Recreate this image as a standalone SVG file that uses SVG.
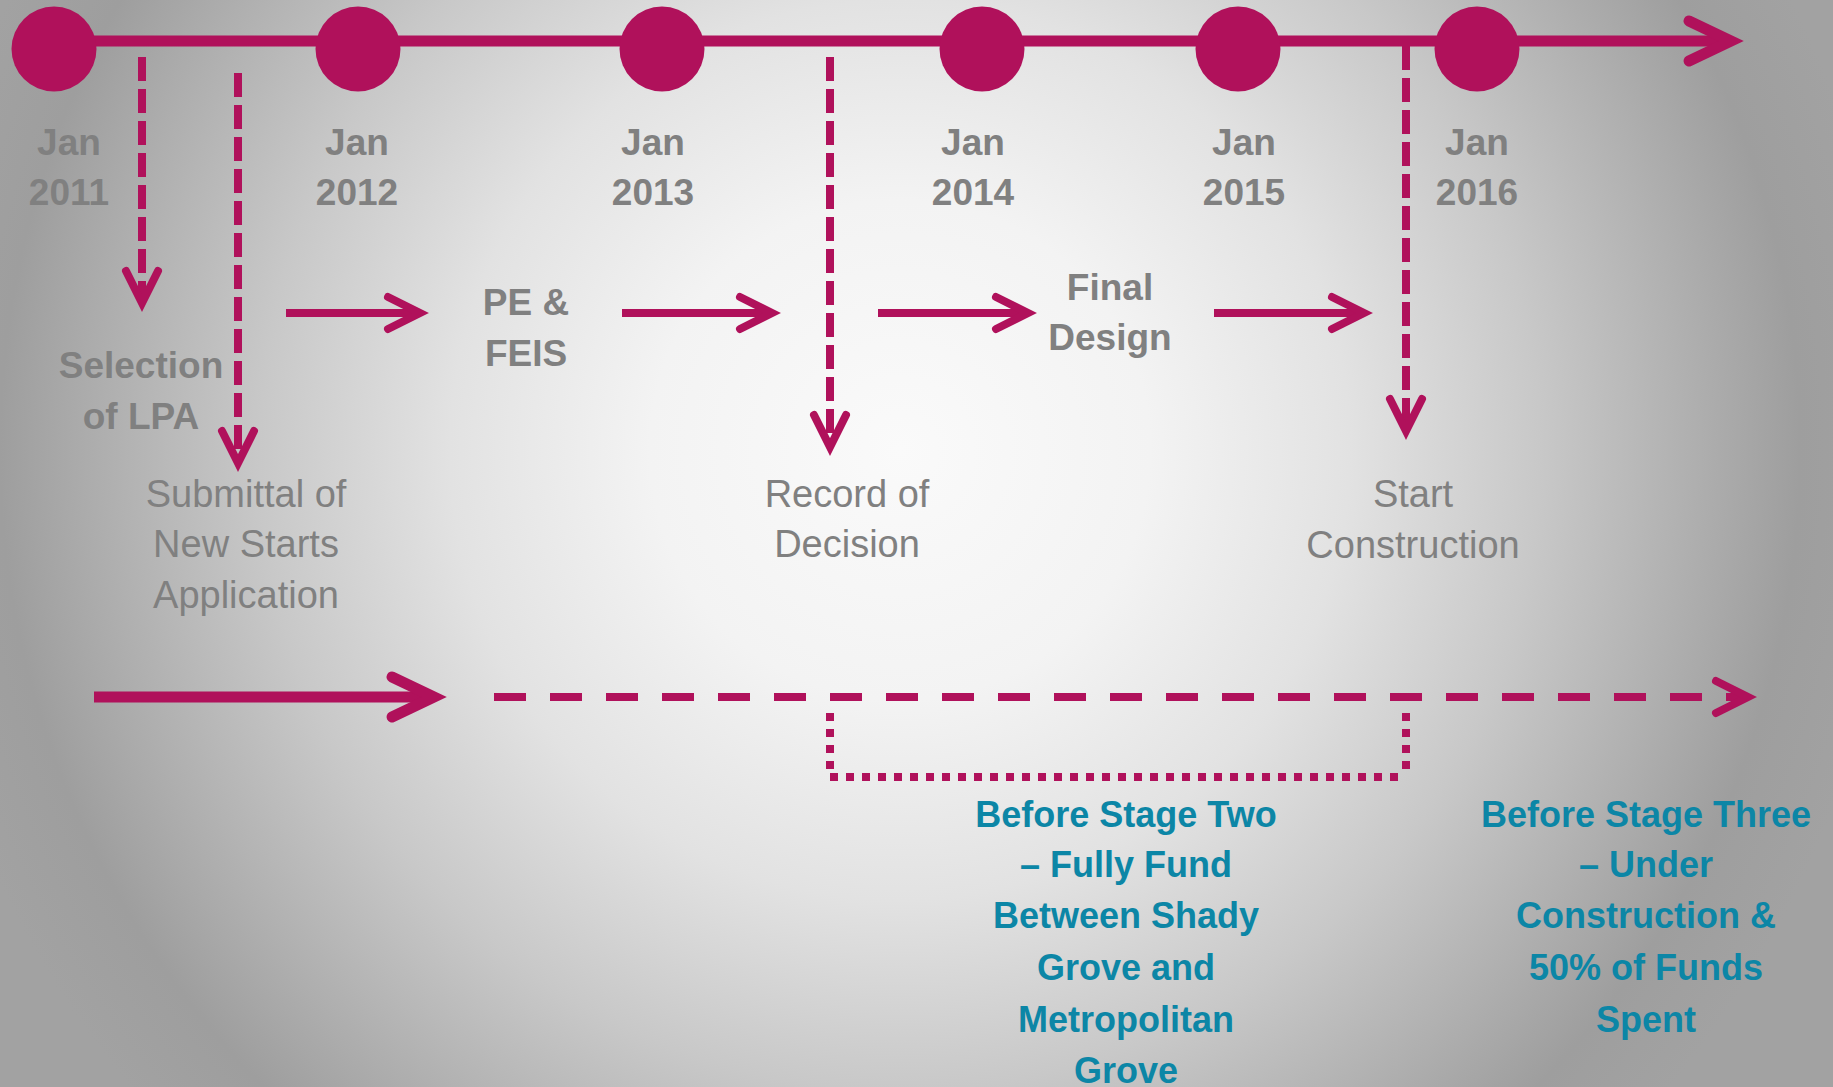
<svg xmlns="http://www.w3.org/2000/svg" width="1833" height="1087" viewBox="0 0 1833 1087">
  <defs>
    <radialGradient id="bg" gradientUnits="userSpaceOnUse" cx="900" cy="450" r="1000">
      <stop offset="0" stop-color="#fafafa"/>
      <stop offset="0.25" stop-color="#f3f3f3"/>
      <stop offset="0.45" stop-color="#e2e2e2"/>
      <stop offset="0.64" stop-color="#c8c8c8"/>
      <stop offset="0.9" stop-color="#9e9e9e"/>
      <stop offset="1" stop-color="#a2a2a2"/>
    </radialGradient>
    <marker id="ah" markerUnits="userSpaceOnUse" orient="auto" overflow="visible" refX="0" refY="0" markerWidth="1" markerHeight="1">
      <path d="M-32,-16 L0,0 L-32,16" fill="none" stroke="#b0115b" stroke-width="8" stroke-linecap="round" stroke-linejoin="miter"/>
    </marker>
    <marker id="ahL" markerUnits="userSpaceOnUse" orient="auto" overflow="visible" refX="0" refY="0" markerWidth="1" markerHeight="1">
      <path d="M-42,-20 L0,0 L-42,20" fill="none" stroke="#b0115b" stroke-width="11" stroke-linecap="round" stroke-linejoin="miter"/>
    </marker>
  </defs>
  <style>
    .ln { fill: none; stroke: #b0115b; }
    .w8 { stroke-width: 8; }
    .w11 { stroke-width: 11; }
    .sysdash { stroke-dasharray: 24 8; }
    .dash { stroke-dasharray: 32 24; }
    .dot { stroke-dasharray: 8 8; }
    .dotc { fill: #b0115b; }
    text { font-family: "Liberation Sans", Arial, sans-serif; text-anchor: middle; }
    .date { font-size: 37px; font-weight: bold; fill: #808080; }
    .phase { font-size: 37px; font-weight: bold; fill: #808080; }
    .mile { font-size: 38px; fill: #808080; }
    .stage { font-size: 36px; font-weight: bold; fill: #0c86a6; }
  </style>

  <rect x="0" y="0" width="1833" height="1087" fill="url(#bg)"/>

  <g id="connectors">
    <line class="ln w11" x1="54" y1="41" x2="1731" y2="41" marker-end="url(#ahL)"/>
    <line class="ln w8 sysdash" x1="142" y1="57" x2="142" y2="303" marker-end="url(#ah)"/>
    <line class="ln w8 sysdash" x1="238" y1="73" x2="238" y2="463" marker-end="url(#ah)"/>
    <line class="ln w8 sysdash" x1="830" y1="57" x2="830" y2="447" marker-end="url(#ah)"/>
    <line class="ln w8 sysdash" x1="1406" y1="46" x2="1406" y2="431" marker-end="url(#ah)"/>
    <line class="ln w8" x1="286" y1="313" x2="420" y2="313" marker-end="url(#ah)"/>
    <line class="ln w8" x1="622" y1="313" x2="772" y2="313" marker-end="url(#ah)"/>
    <line class="ln w8" x1="878" y1="313" x2="1028" y2="313" marker-end="url(#ah)"/>
    <line class="ln w8" x1="1214" y1="313" x2="1364" y2="313" marker-end="url(#ah)"/>
    <line class="ln w11" x1="94" y1="697" x2="434" y2="697" marker-end="url(#ahL)"/>
    <line class="ln w8 dash" x1="494" y1="697" x2="1748" y2="697" marker-end="url(#ah)"/>
    <line class="ln w8 dot" x1="830" y1="713" x2="830" y2="769"/>
    <line class="ln w8 dot" x1="830" y1="777" x2="1398" y2="777"/>
    <line class="ln w8 dot" x1="1406" y1="713" x2="1406" y2="769"/>
  </g>

  <g id="jan2011">
    <circle class="dotc" cx="54" cy="49" r="42.5"/>
    <text class="date" x="69" y="155">Jan</text>
    <text class="date" x="69" y="205">2011</text>
  </g>
  <g id="jan2012">
    <circle class="dotc" cx="358" cy="49" r="42.5"/>
    <text class="date" x="357" y="155">Jan</text>
    <text class="date" x="357" y="205">2012</text>
  </g>
  <g id="jan2013">
    <circle class="dotc" cx="662" cy="49" r="42.5"/>
    <text class="date" x="653" y="155">Jan</text>
    <text class="date" x="653" y="205">2013</text>
  </g>
  <g id="jan2014">
    <circle class="dotc" cx="982" cy="49" r="42.5"/>
    <text class="date" x="973" y="155">Jan</text>
    <text class="date" x="973" y="205">2014</text>
  </g>
  <g id="jan2015">
    <circle class="dotc" cx="1238" cy="49" r="42.5"/>
    <text class="date" x="1244" y="155">Jan</text>
    <text class="date" x="1244" y="205">2015</text>
  </g>
  <g id="jan2016">
    <circle class="dotc" cx="1477" cy="49" r="42.5"/>
    <text class="date" x="1477" y="155">Jan</text>
    <text class="date" x="1477" y="205">2016</text>
  </g>

  <g id="selection-lpa">
    <text class="phase" x="141" y="378">Selection</text>
    <text class="phase" x="141" y="429">of LPA</text>
  </g>
  <g id="pe-feis">
    <text class="phase" x="526" y="315">PE &amp;</text>
    <text class="phase" x="526" y="366">FEIS</text>
  </g>
  <g id="final-design">
    <text class="phase" x="1110" y="300">Final</text>
    <text class="phase" x="1110" y="350">Design</text>
  </g>
  <g id="submittal">
    <text class="mile" x="246" y="507">Submittal of</text>
    <text class="mile" x="246" y="557">New Starts</text>
    <text class="mile" x="246" y="608">Application</text>
  </g>
  <g id="record-of-decision">
    <text class="mile" x="847" y="507">Record of</text>
    <text class="mile" x="847" y="557">Decision</text>
  </g>
  <g id="start-construction">
    <text class="mile" x="1413" y="507">Start</text>
    <text class="mile" x="1413" y="558">Construction</text>
  </g>
  <g id="stage-two">
    <text class="stage" x="1126" y="827">Before Stage Two</text>
    <text class="stage" x="1126" y="877">– Fully Fund</text>
    <text class="stage" x="1126" y="928">Between Shady</text>
    <text class="stage" x="1126" y="980">Grove and</text>
    <text class="stage" x="1126" y="1032">Metropolitan</text>
    <text class="stage" x="1126" y="1083">Grove</text>
  </g>
  <g id="stage-three">
    <text class="stage" x="1646" y="827">Before Stage Three</text>
    <text class="stage" x="1646" y="877">– Under</text>
    <text class="stage" x="1646" y="928">Construction &amp;</text>
    <text class="stage" x="1646" y="980">50% of Funds</text>
    <text class="stage" x="1646" y="1032">Spent</text>
  </g>
</svg>
